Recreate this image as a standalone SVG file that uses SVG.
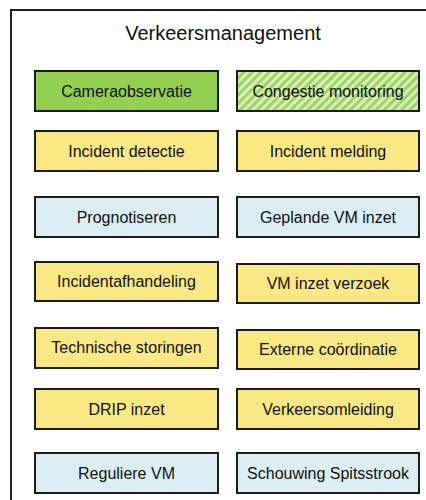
<svg xmlns="http://www.w3.org/2000/svg" width="426" height="500" viewBox="0 0 426 500">
<style>
.box{stroke:#1c1c1c;stroke-width:2}
.g{fill:#92D050}
.y{fill:#FAE884}
.b{fill:#DAEEF3}
.h{fill:url(#hatch)}
.t{font-family:"Liberation Sans",Arial,sans-serif;font-size:16px;fill:#111;text-anchor:middle}
.title{font-family:"Liberation Sans",Arial,sans-serif;font-size:20px;fill:#111;text-anchor:middle}
</style>
<defs>
<pattern id="hatch" patternUnits="userSpaceOnUse" width="6" height="6" patternTransform="rotate(45)">
<rect width="6" height="6" fill="#D9F0BE"/>
<rect width="3" height="6" fill="#9DD65E"/>
</pattern>
</defs>
<rect width="426" height="500" fill="#fff"/>
<path d="M11,510 V10 H430" fill="none" stroke="#1c1c1c" stroke-width="2"/>
<text class="title" x="223" y="40">Verkeersmanagement</text>
<g id="n1"><rect class="box g" x="35" y="71" width="183" height="40"/><text class="t" x="126.5" y="97">Cameraobservatie</text></g>
<g id="n2"><rect class="box h" x="237" y="71" width="182" height="40"/><text class="t" x="328" y="97">Congestie monitoring</text></g>
<g id="n3"><rect class="box y" x="35" y="131" width="183" height="40"/><text class="t" x="126.5" y="157">Incident detectie</text></g>
<g id="n4"><rect class="box y" x="237" y="131" width="182" height="40"/><text class="t" x="328" y="157">Incident melding</text></g>
<g id="n5"><rect class="box b" x="35" y="197" width="183" height="40"/><text class="t" x="126.5" y="223">Prognotiseren</text></g>
<g id="n6"><rect class="box b" x="237" y="197" width="182" height="40"/><text class="t" x="328" y="223">Geplande VM inzet</text></g>
<g id="n7"><rect class="box y" x="35" y="262" width="183" height="39"/><text class="t" x="126.5" y="287">Incidentafhandeling</text></g>
<g id="n8"><rect class="box y" x="237" y="264" width="182" height="39"/><text class="t" x="328" y="289">VM inzet verzoek</text></g>
<g id="n9"><rect class="box y" x="35" y="328" width="183" height="40"/><text class="t" x="126.5" y="353">Technische storingen</text></g>
<g id="n10"><rect class="box y" x="237" y="330" width="182" height="39"/><text class="t" x="328" y="355">Externe coördinatie</text></g>
<g id="n11"><rect class="box y" x="35" y="389" width="183" height="40"/><text class="t" x="126.5" y="415">DRIP inzet</text></g>
<g id="n12"><rect class="box y" x="237" y="389" width="182" height="40"/><text class="t" x="328" y="415">Verkeersomleiding</text></g>
<g id="n13"><rect class="box b" x="35" y="453" width="183" height="40"/><text class="t" x="126.5" y="479">Reguliere VM</text></g>
<g id="n14"><rect class="box b" x="237" y="453" width="182" height="40"/><text class="t" x="328" y="479">Schouwing Spitsstrook</text></g>
</svg>
